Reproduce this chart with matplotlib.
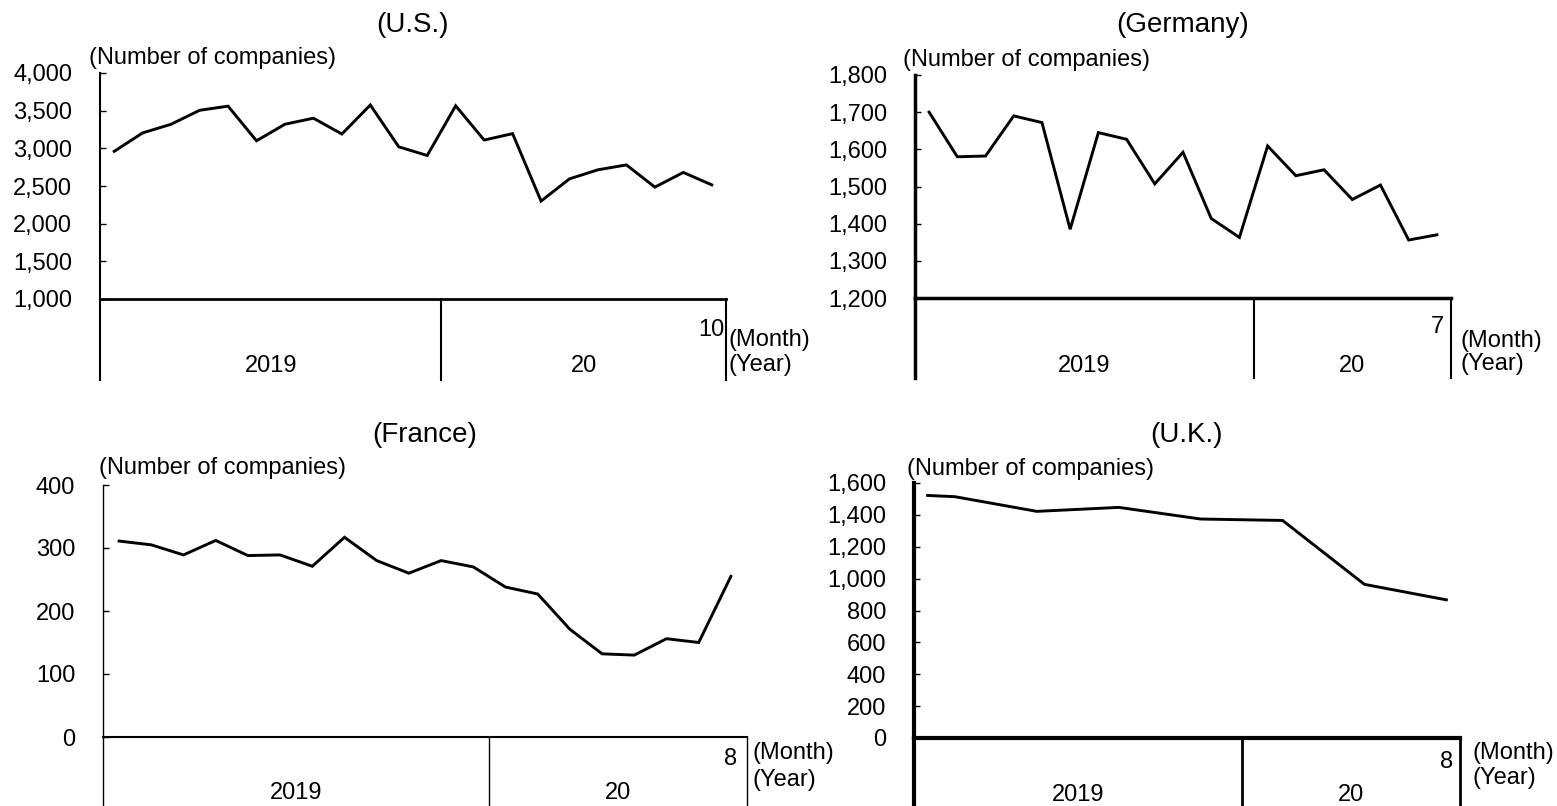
import numpy as np
import matplotlib
matplotlib.use("Agg")
from matplotlib import pyplot as plt
from matplotlib.ticker import FuncFormatter

plt.rcParams['font.family'] = ['Liberation Sans', 'DejaVu Sans']

W, H = 1557, 806

# monthly values from Jan 2019
us_values = [2960, 3205, 3320, 3505, 3560, 3100, 3320, 3400, 3190, 3575, 3020, 2905,
             3565, 3110, 3195, 2300, 2595, 2715, 2780, 2485, 2680, 2515]
germany_values = [1700, 1580, 1582, 1690, 1672, 1385, 1645, 1627, 1507, 1592, 1414, 1363,
                  1609, 1529, 1545, 1465, 1504, 1356, 1370]
france_values = [311, 305, 289, 312, 288, 289, 271, 317, 280, 260, 280, 270,
                 238, 227, 171, 132, 130, 156, 150, 255]
# U.K. only has some months (Jan 2019 = 0)
uk_months = [0, 1, 4, 7, 10, 13, 16, 19]
uk_values = [1522, 1514, 1422, 1447, 1374, 1365, 964, 867]

year_labels = ["2019", "20"]
months_2019 = 12

fig = plt.figure(figsize=(W / 100, H / 100), dpi=100)


def fx(x):
    return x / W


def fy(y):
    return 1 - y / H


def panel(box, title, title_y, ylab_x, n, xs, ys, yticks, last_month,
          spine_w, div_w, month_y, mlab_x, mlab_y, ylab_y, year_y, ext_y, ylab_top):
    left, top, right, bottom = box
    ax = fig.add_axes([fx(left), fy(bottom), fx(right - left), (bottom - top) / H])
    hpx = bottom - top

    ax.plot(xs, ys, color='black', lw=2.1, solid_joinstyle='miter')
    ax.set_xlim(-0.5, n - 0.5)
    ax.set_ylim(yticks[0], yticks[-1])
    ax.set_yticks(yticks)
    ax.yaxis.set_major_formatter(FuncFormatter(lambda v, p: f"{int(v):,}"))
    ax.tick_params(axis='y', direction='in', length=4, width=1, pad=20, labelsize=17)
    ax.set_xticks([])

    for s in ['top', 'right']:
        ax.spines[s].set_visible(False)
    ax.spines['left'].set_linewidth(spine_w[0])
    ax.spines['bottom'].set_linewidth(spine_w[1])

    # year box lines under the axis
    ext = -(ext_y - bottom) / hpx
    ax.axvline(-0.5, ymin=ext, ymax=0, color='black', lw=spine_w[0], clip_on=False)
    ax.axvline(months_2019 - 0.5, ymin=ext, ymax=0, color='black', lw=div_w, clip_on=False)
    ax.axvline(n - 0.5, ymin=ext, ymax=0, color='black', lw=div_w, clip_on=False)

    tr = ax.get_xaxis_transform()
    ax.text(n - 1, -(month_y - bottom) / hpx, last_month, transform=tr,
            ha='center', va='center', fontsize=17)
    ax.text((months_2019 - 1) / 2, -(year_y - bottom) / hpx, year_labels[0], transform=tr,
            ha='center', va='center', fontsize=17)
    ax.text((months_2019 + n - 1) / 2, -(year_y - bottom) / hpx, year_labels[1], transform=tr,
            ha='center', va='center', fontsize=17)

    fig.text(fx(mlab_x), fy(mlab_y), "(Month)", ha='left', va='center', fontsize=17)
    fig.text(fx(mlab_x), fy(ylab_y), "(Year)", ha='left', va='center', fontsize=17)
    fig.text(fx(ylab_x), fy(ylab_top), "(Number of companies)", ha='left', va='center', fontsize=17)
    fig.text(fx((left + right) / 2), fy(title_y), title, ha='center', va='center', fontsize=20)
    return ax


panel((100, 73, 726, 299), "(U.S.)", 25, 89,
      len(us_values), np.arange(len(us_values)), us_values,
      np.arange(1000, 4001, 500), "10", (1.5, 2), 1.5,
      330, 729, 340, 365, 366, 380, 58)

panel((915, 75, 1451, 298), "(Germany)", 25, 903,
      len(germany_values), np.arange(len(germany_values)), germany_values,
      np.arange(1200, 1801, 100), "7", (2.5, 2.5), 1.5,
      327, 1460, 341, 364, 366, 378, 60)

panel((103, 485, 747, 737), "(France)", 435, 99,
      len(france_values), np.arange(len(france_values)), france_values,
      np.arange(0, 401, 100), "8", (1, 1.5), 1,
      759, 753, 753, 780, 793, 806, 468)

panel((914, 483, 1460, 738), "(U.K.)", 435, 907,
      20, uk_months, uk_values,
      np.arange(0, 1601, 200), "8", (3, 3), 2,
      762, 1473, 753, 778, 795, 806, 469)

fig.savefig("out.png", dpi=100)
